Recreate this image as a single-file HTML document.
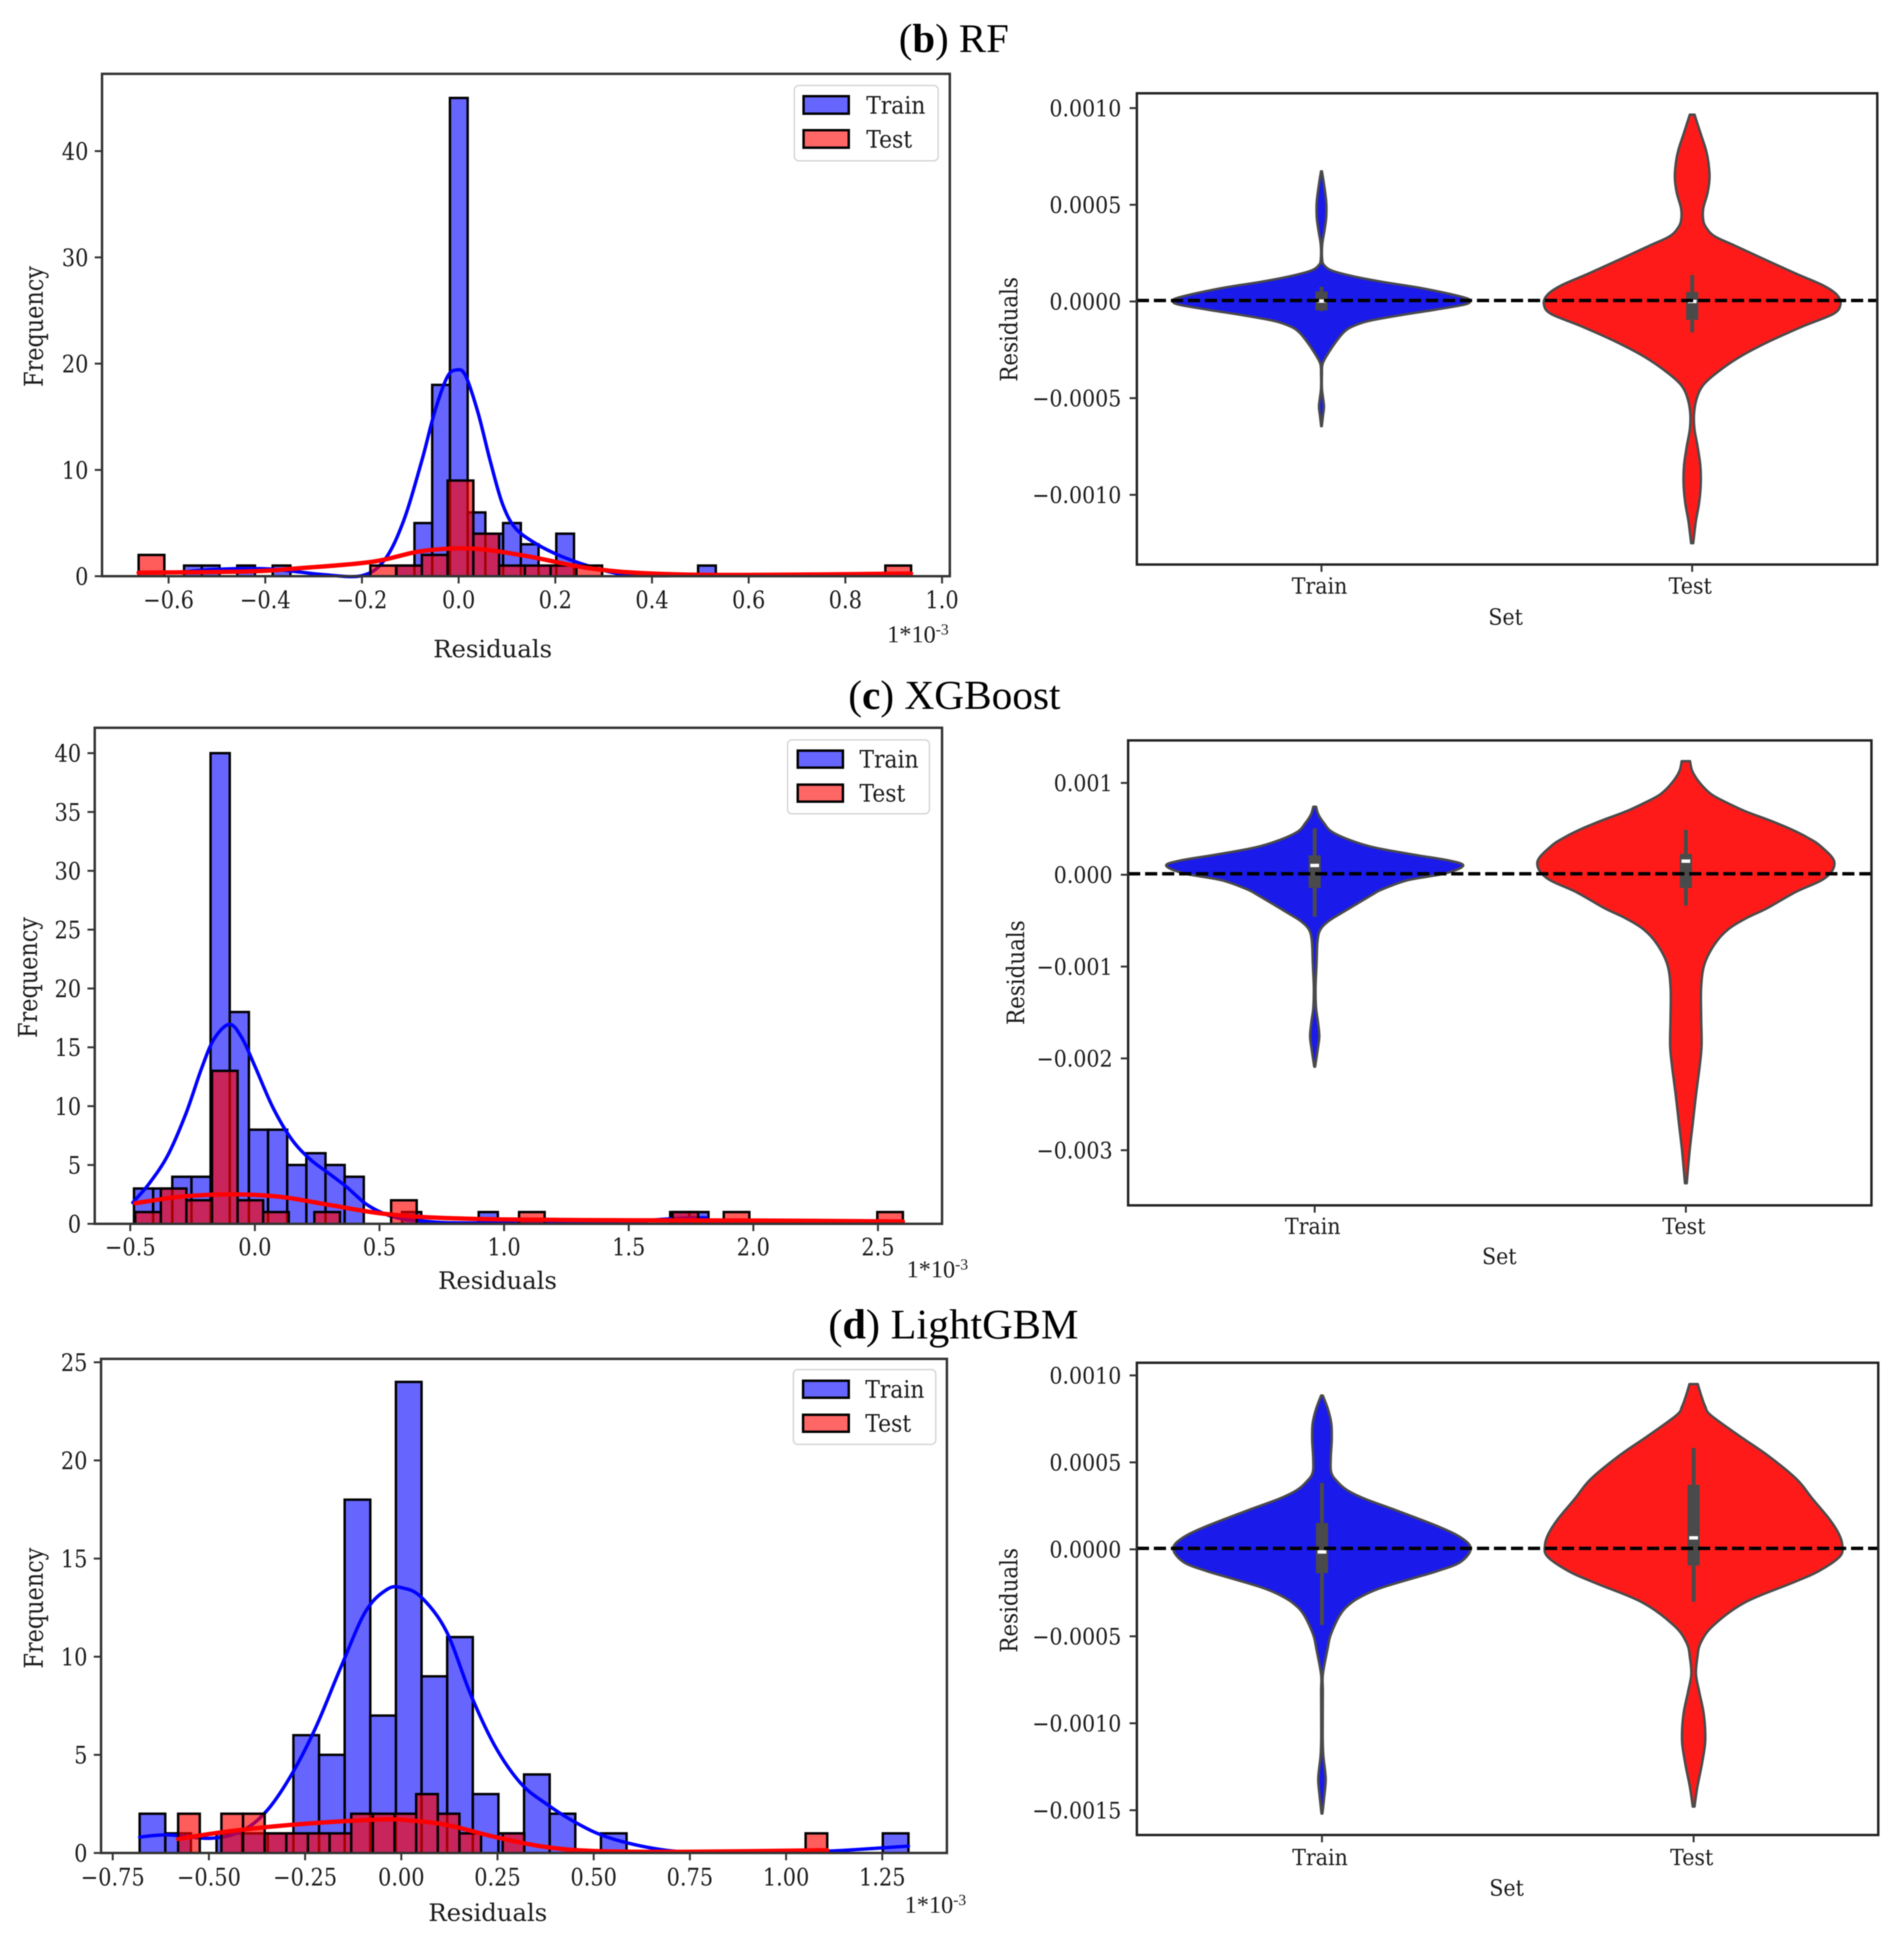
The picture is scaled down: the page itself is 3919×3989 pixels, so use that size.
<!DOCTYPE html>
<html lang="en">
<head>
<meta charset="utf-8">
<title>Residual histograms and violin plots</title>
<style>
html,body{margin:0;padding:0;background:#fff;}
svg{display:block;filter:blur(1.1px);}
text{fill:#1a1a1a;}
</style>
</head>
<body>
<svg id="figure" xmlns="http://www.w3.org/2000/svg" width="3919" height="3989" viewBox="0 0 3919 3989">
<rect x="0" y="0" width="3919" height="3989" fill="#ffffff"/>
</svg>
<script>
/* ---------- RF histogram data ---------- */
const rfXTicks = [-0.6,-0.4,-0.2,0,0.2,0.4,0.6,0.8,1.0];
const rfXLabels = ['−0.6','−0.4','−0.2','0.0','0.2','0.4','0.6','0.8','1.0'];
const rfYTicks = [0,10,20,30,40];
const rfTrainRange = [-0.568,0.532];
const rfTestRange = [-0.662,0.936];
const rfTrainCounts = [1,1,0,1,0,1,0,0,0,0,0,0,1,5,18,45,6,4,5,3,1,4,0,0,0,0,0,0,0,1];
const rfTestCounts = [2,0,0,0,0,0,0,0,0,1,1,2,9,4,1,1,1,1,0,0,0,0,0,0,0,0,0,0,0,1];
const rfTrainKdeX = [-0.568,-0.5,-0.4,-0.33,-0.28,-0.2,-0.153,-0.114,-0.076,-0.05,-0.024,-0.005,0.014,0.04,0.065,0.09,0.116,0.155,0.206,0.27,0.335,0.4,0.532];
const rfTrainKdeY = [0.4,0.65,0.7,0.4,0.15,0.05,1.55,5.2,10.9,15.4,18.7,19.4,18.9,15.4,10.9,6.9,4.6,3.2,2,0.94,0.2,0.04,0.1];
const rfTestKdeX = [-0.662,-0.435,-0.33,-0.18,-0.075,0.027,0.14,0.27,0.4,0.59,0.936];
const rfTestKdeY = [0.33,0.45,0.75,1.35,2.37,2.6,1.9,0.75,0.25,0.12,0.25];

/* ---------- XGBoost histogram data ---------- */
const xgbXTicks = [-0.5,0,0.5,1.0,1.5,2.0,2.5];
const xgbXLabels = ['−0.5','0.0','0.5','1.0','1.5','2.0','2.5'];
const xgbYTicks = [0,5,10,15,20,25,30,35,40];
const xgbTrainRange = [-0.485,1.82];
const xgbTestRange = [-0.48,2.6];
const xgbTrainCounts = [3,3,4,4,40,18,8,8,5,6,5,4,0,0,1,0,0,0,1,0,0,0,0,0,0,0,0,0,1,1];
const xgbTestCounts = [1,3,2,13,2,1,0,1,0,0,2,0,0,0,0,1,0,0,0,0,0,1,0,1,0,0,0,0,0,1];
const xgbTrainKdeX = [-0.49,-0.425,-0.35,-0.276,-0.214,-0.164,-0.102,-0.052,0,0.072,0.147,0.221,0.296,0.37,0.445,0.52,0.594,0.669,0.768,0.967,1.464,1.613,1.737,1.812];
const xgbTrainKdeY = [1.8,3.4,5.8,9.4,13.2,15.7,16.95,15.8,13.4,9.9,7.2,5.5,4.3,3.1,1.7,0.85,0.4,0.25,0.1,0.07,0.1,0.35,0.5,0.5];
const xgbTestKdeX = [-0.48,-0.3,-0.1,0.1,0.3,0.5,0.7,1.0,1.5,2.0,2.6];
const xgbTestKdeY = [1.75,2.3,2.5,2.3,1.6,0.9,0.55,0.37,0.3,0.28,0.2];

/* ---------- LightGBM histogram data ---------- */
const lgbXTicks = [-0.75,-0.5,-0.25,0,0.25,0.5,0.75,1.0,1.25];
const lgbXLabels = ['−0.75','−0.50','−0.25','0.00','0.25','0.50','0.75','1.00','1.25'];
const lgbYTicks = [0,5,10,15,20,25];
const lgbTrainRange = [-0.68,1.318];
const lgbTestRange = [-0.58,1.107];
const lgbTrainCounts = [2,1,0,1,1,1,6,5,18,7,24,9,11,3,1,4,2,0,1,0,0,0,0,0,0,0,0,0,0,1];
const lgbTestCounts = [2,0,2,2,1,1,1,1,2,2,2,3,2,1,0,1,0,0,0,0,0,0,0,0,0,0,0,0,0,1];
const lgbTrainKdeX = [-0.68,-0.608,-0.495,-0.415,-0.35,-0.286,-0.222,-0.157,-0.093,-0.036,0.004,0.052,0.117,0.181,0.245,0.31,0.374,0.455,0.535,0.648,0.76,0.97,1.115,1.318];
const lgbTrainKdeY = [0.81,0.92,0.75,1.12,2.14,3.97,6.41,9.47,12.3,13.44,13.5,13.03,11.3,8.04,5.39,3.56,2.54,1.53,0.81,0.26,0.04,0.06,0.1,0.35];
const lgbTestKdeX = [-0.58,-0.48,-0.35,-0.222,-0.077,0.004,0.117,0.245,0.374,0.503,0.728,1.107];
const lgbTestKdeY = [0.71,1.02,1.32,1.53,1.69,1.69,1.43,0.81,0.31,0.1,0.06,0.14];

/* ---------- Violin data: residual values in units of 1e-3, density relative to peak ---------- */
const rfVioTicks = [1,0.5,0,-0.5,-1];
const rfVioLabels = ['0.0010','0.0005','0.0000','−0.0005','−0.0010'];
const rfVioTrainVal = [0.673,0.611,0.514,0.437,0.37,0.293,0.216,0.187,0.159,0.13,0.101,0.072,0.043,0.019,0.005,-0.015,-0.043,-0.072,-0.101,-0.13,-0.159,-0.207,-0.265,-0.322,-0.38,-0.448,-0.496,-0.544,-0.592,-0.645];
const rfVioTrainDen = [0.003,0.016,0.032,0.032,0.021,0.005,0.005,0.019,0.072,0.215,0.413,0.652,0.842,0.969,1,0.97,0.763,0.524,0.318,0.207,0.151,0.099,0.048,0.008,0.003,0.003,0.01,0.017,0.01,0.002];
const rfVioTrainBox = [-0.05,-0.046,0.002,0.052,0.076];
const rfVioTestVal = [0.966,0.866,0.786,0.722,0.642,0.562,0.482,0.425,0.385,0.338,0.29,0.225,0.144,0.082,0.033,-0.015,-0.064,-0.127,-0.207,-0.288,-0.368,-0.432,-0.496,-0.576,-0.657,-0.752,-0.848,-0.945,-1.041,-1.137,-1.25];
const rfVioTestDen = [0.016,0.058,0.092,0.109,0.117,0.104,0.075,0.074,0.092,0.15,0.284,0.468,0.7,0.886,0.978,1,0.953,0.752,0.518,0.318,0.167,0.075,0.033,0.013,0.015,0.037,0.055,0.058,0.047,0.025,0.007];
const rfVioTestBox = [-0.16,-0.095,0,0.049,0.137];

const xgbVioTicks = [1,0,-1,-2,-3];
const xgbVioLabels = ['0.001','0.000','−0.001','−0.002','−0.003'];
const xgbVioTrainVal = [0.741,0.656,0.562,0.468,0.374,0.295,0.217,0.154,0.098,0.013,-0.06,-0.16,-0.223,-0.41,-0.505,-0.599,-0.724,-0.975,-1.226,-1.446,-1.603,-1.76,-1.917,-2.09];
const xgbVioTrainDen = [0.009,0.025,0.063,0.116,0.244,0.407,0.673,0.908,1,0.876,0.626,0.454,0.382,0.188,0.094,0.038,0.019,0.0125,0.006,0.009,0.022,0.031,0.019,0.003];
const xgbVioTrainBox = [-0.458,-0.144,0.101,0.211,0.506];
const xgbVioTestVal = [1.237,1.127,1.001,0.876,0.782,0.688,0.593,0.499,0.405,0.311,0.138,-0.034,-0.191,-0.364,-0.473,-0.599,-0.756,-0.976,-1.226,-1.54,-1.854,-2.074,-2.388,-2.701,-3.015,-3.36];
const xgbVioTestDen = [0.028,0.044,0.094,0.172,0.28,0.406,0.563,0.704,0.82,0.908,1,0.939,0.736,0.548,0.407,0.282,0.194,0.125,0.103,0.103,0.106,0.094,0.069,0.047,0.025,0.006];
const xgbVioTestBox = [-0.336,-0.144,0.148,0.227,0.49];

const lgbVioTicks = [1,0.5,0,-0.5,-1,-1.5];
const lgbVioLabels = ['0.0010','0.0005','0.0000','−0.0005','−0.0010','−0.0015'];
const lgbVioTrainVal = [0.884,0.804,0.721,0.63,0.522,0.44,0.39,0.34,0.29,0.224,0.125,0.059,0,-0.074,-0.124,-0.157,-0.215,-0.256,-0.306,-0.372,-0.488,-0.571,-0.72,-0.82,-1.068,-1.184,-1.317,-1.416,-1.519];
const lgbVioTrainDen = [0.006,0.041,0.063,0.066,0.059,0.063,0.103,0.17,0.29,0.5,0.8,0.95,1,0.93,0.78,0.65,0.42,0.3,0.2,0.125,0.06,0.038,0.006,0.006,0.005,0.009,0.025,0.016,0.003];
const lgbVioTrainBox = [-0.435,-0.137,-0.015,0.152,0.382];
const lgbVioTestVal = [0.95,0.887,0.821,0.771,0.655,0.539,0.406,0.29,0.174,0.092,0.025,-0.041,-0.124,-0.19,-0.306,-0.439,-0.538,-0.621,-0.72,-0.82,-0.952,-1.101,-1.234,-1.366,-1.479];
const lgbVioTestDen = [0.028,0.05,0.078,0.116,0.303,0.5,0.69,0.8,0.913,0.975,1,0.984,0.844,0.672,0.344,0.131,0.047,0.025,0.016,0.038,0.069,0.078,0.056,0.025,0.006];
const lgbVioTestBox = [-0.302,-0.093,0.066,0.371,0.583];

const vioCategories = ['Train','Test'];

/* ---------- helpers ---------- */
const svg = document.getElementById('figure');
const NS = 'http://www.w3.org/2000/svg';
const SERIF = '"DejaVu Serif","Liberation Serif",serif';
const TITLE_FONT = '"Liberation Serif","DejaVu Serif",serif';

function mk(parent, tag, attrs, name, interactive) {
  const el = document.createElementNS(NS, tag);
  for (const k in attrs) el.setAttribute(k, attrs[k]);
  
  
  parent.appendChild(el);
  return el;
}
function label(parent, x, y, str, o, name) {
  const t = (o.rot ? 'rotate(-90) ' : '');
  const el = mk(parent, 'text', {
    transform: 'translate(' + x + ',' + y + ') scale(' + (o.sx || 1) + ',1) ' + t,
    'font-family': o.font || SERIF,
    'font-size': o.fs,
    'text-anchor': o.anchor || 'middle'
  }, name);
  el.textContent = str;
  return el;
}
/* Smooth path through the points (Catmull-Rom drawn as Bezier segments) */
function smooth(pts) {
  let d = 'M' + pts[0][0].toFixed(1) + ',' + pts[0][1].toFixed(1);
  for (let i = 0; i < pts.length - 1; i++) {
    const p0 = pts[Math.max(0, i - 1)], p1 = pts[i], p2 = pts[i + 1], p3 = pts[Math.min(pts.length - 1, i + 2)];
    const c1x = p1[0] + (p2[0] - p0[0]) / 6, c1y = p1[1] + (p2[1] - p0[1]) / 6;
    const c2x = p2[0] - (p3[0] - p1[0]) / 6, c2y = p2[1] - (p3[1] - p1[1]) / 6;
    d += 'C' + c1x.toFixed(1) + ',' + c1y.toFixed(1) + ' ' + c2x.toFixed(1) + ',' + c2y.toFixed(1) + ' ' + p2[0].toFixed(1) + ',' + p2[1].toFixed(1);
  }
  return d;
}

function title(prefixBold, rest, x, y, fs, name) {
  const el = mk(svg, 'text', {x: x, y: y, 'font-family': TITLE_FONT, 'font-size': fs}, name);
  el.style.fill = '#000';
  el.appendChild(document.createTextNode('('));
  const b = document.createElementNS(NS, 'tspan');
  b.setAttribute('font-weight', 'bold');
  b.textContent = prefixBold;
  el.appendChild(b);
  el.appendChild(document.createTextNode(') ' + rest));
}

function drawHist(c) {
  const g = mk(svg, 'g', {}, c.id + '-histogram');
  const X = v => c.zeroX + v * c.unitX;
  const Y = v => c.zeroY - v * c.unitY;
  mk(g, 'rect', {x: c.box[0], y: c.box[1], width: c.box[2] - c.box[0], height: c.box[3] - c.box[1], fill: '#fff'}, 'plot-area');

  function bars(range, counts, color, op, name) {
    const bw = (range[1] - range[0]) / counts.length;
    const gb = mk(g, 'g', {}, name + '-bars');
    counts.forEach((n, i) => {
      if (n <= 0) return;
      mk(gb, 'rect', {
        x: X(range[0] + i * bw), y: Y(n),
        width: X(range[0] + (i + 1) * bw) - X(range[0] + i * bw),
        height: Y(0) - Y(n),
        fill: color, 'fill-opacity': op, stroke: '#000', 'stroke-width': 5
      }, name + '-bar');
    });
  }
  function kde(xs, ys, color, w, name) {
    mk(g, 'path', {
      d: smooth(xs.map((v, i) => [X(v), Y(ys[i])])),
      fill: 'none', stroke: color, 'stroke-width': w, 'stroke-linecap': 'round', 'stroke-linejoin': 'round'
    }, name + '-kde-line');
  }
  bars(c.trainRange, c.trainCounts, '#0000ff', 0.6, 'train');
  kde(c.trainKdeX, c.trainKdeY, '#0000ff', 7, 'train');
  bars(c.testRange, c.testCounts, '#ff0000', 0.64, 'test');
  kde(c.testKdeX, c.testKdeY, '#ff0000', 9, 'test');

  mk(g, 'rect', {x: c.box[0], y: c.box[1], width: c.box[2] - c.box[0], height: c.box[3] - c.box[1], fill: 'none', stroke: '#333', 'stroke-width': 5}, 'axes-frame');

  const gx = mk(g, 'g', {}, 'x-axis');
  c.xTicks.forEach((v, i) => {
    mk(gx, 'line', {x1: X(v), x2: X(v), y1: c.box[3], y2: c.box[3] + 15, stroke: '#333', 'stroke-width': 4}, 'x-tick');
    label(gx, X(v), c.xLabelY, c.xLabels[i], {fs: 50, sx: 0.86}, 'x-tick-label');
  });
  const gy = mk(g, 'g', {}, 'y-axis');
  c.yTicks.forEach(v => {
    mk(gy, 'line', {x1: c.box[0] - 15, x2: c.box[0], y1: Y(v), y2: Y(v), stroke: '#333', 'stroke-width': 4}, 'y-tick');
    label(gy, c.box[0] - 28, Y(v) + 18, String(v), {fs: 50, sx: 0.86, anchor: 'end'}, 'y-tick-label');
  });
  label(g, c.xTitle[0], c.xTitle[1], 'Residuals', {fs: 50, sx: 1.0}, 'x-axis-title');
  label(g, c.yTitle[0], c.yTitle[1], 'Frequency', {fs: 46, sx: 1.15, rot: true}, 'y-axis-title');

  const sc = mk(g, 'text', {x: c.scale[0], y: c.scale[1], 'font-family': TITLE_FONT, 'font-size': 50}, 'x-axis-scale-note');
  sc.appendChild(document.createTextNode('1*10'));
  const sup = document.createElementNS(NS, 'tspan');
  sup.setAttribute('dy', '-16');
  sup.setAttribute('font-size', '32');
  sup.textContent = '-3';
  sc.appendChild(sup);

  const L = c.legend;
  const lg = mk(g, 'g', {}, 'legend');
  mk(lg, 'rect', {x: L.x0, y: L.y0, width: L.x1 - L.x0, height: L.y1 - L.y0, rx: 9, fill: '#fff', 'fill-opacity': 0.85, stroke: '#d6d6d6', 'stroke-width': 3}, 'legend-frame');
  [['Train', '#0000ff', L.r1], ['Test', '#ff0000', L.r2]].forEach(e => {
    mk(lg, 'rect', {x: L.sx0, y: e[2], width: L.sx1 - L.sx0, height: L.sh, fill: e[1], 'fill-opacity': 0.6, stroke: '#000', 'stroke-width': 5}, 'legend-swatch-' + e[0].toLowerCase());
    label(lg, L.tx, e[2] + L.sh, e[0], {fs: 50, sx: 0.9, anchor: 'start'}, 'legend-label-' + e[0].toLowerCase());
  });
}

function drawViolin(c) {
  const g = mk(svg, 'g', {}, c.id + '-violin-plot');
  const X = i => c.cat0 + i * c.catStep;
  const Y = v => c.zeroY - v * c.unitY;
  const halfW = c.catStep * 0.4;
  mk(g, 'rect', {x: c.box[0], y: c.box[1], width: c.box[2] - c.box[0], height: c.box[3] - c.box[1], fill: '#fff'}, 'plot-area');

  function violin(i, vals, dens, box, color, name) {
    const gv = mk(g, 'g', {}, name + '-violin');
    const right = vals.map((v, k) => [X(i) + dens[k] * halfW, Y(v)]);
    const left = vals.map((v, k) => [X(i) - dens[k] * halfW, Y(v)]).reverse();
    mk(gv, 'path', {d: smooth(right) + 'L' + left[0][0].toFixed(1) + ',' + left[0][1].toFixed(1) + smooth(left).replace(/^M[^C]*/, '') + 'Z', fill: color, stroke: '#4a4a4a', 'stroke-width': 5, 'stroke-linejoin': 'round'}, name + '-violin-body');
    mk(gv, 'line', {x1: X(i), x2: X(i), y1: Y(box[0]), y2: Y(box[4]), stroke: '#4a4a4a', 'stroke-width': 8}, name + '-whisker');
    mk(gv, 'rect', {x: X(i) - 12.5, y: Y(box[3]), width: 25, height: Y(box[1]) - Y(box[3]), fill: '#4a4a4a'}, name + '-quartile-box');
    mk(gv, 'rect', {x: X(i) - 9, y: Y(box[2]) - 3.5, width: 18, height: 7, fill: '#fff'}, name + '-median');
  }
  violin(0, c.trainVal, c.trainDen, c.trainBox, '#1a1aeb', 'train');
  violin(1, c.testVal, c.testDen, c.testBox, '#ff1a1a', 'test');

  mk(g, 'line', {x1: c.box[0], x2: c.box[2], y1: Y(0) - 2, y2: Y(0) - 2, stroke: '#000', 'stroke-width': 7, 'stroke-dasharray': '25 10'}, 'zero-reference-line');
  mk(g, 'rect', {x: c.box[0], y: c.box[1], width: c.box[2] - c.box[0], height: c.box[3] - c.box[1], fill: 'none', stroke: '#222', 'stroke-width': 5}, 'axes-frame');

  const gy = mk(g, 'g', {}, 'y-axis');
  c.ticks.forEach((v, i) => {
    mk(gy, 'line', {x1: c.box[0] - 15, x2: c.box[0], y1: Y(v), y2: Y(v), stroke: '#333', 'stroke-width': 4}, 'y-tick');
    label(gy, c.box[0] - 32, Y(v) + 17, c.labels[i], {fs: 47, sx: 0.9, anchor: 'end'}, 'y-tick-label');
  });
  const gx = mk(g, 'g', {}, 'x-axis');
  vioCategories.forEach((name, i) => {
    mk(gx, 'line', {x1: X(i), x2: X(i), y1: c.box[3], y2: c.box[3] + 15, stroke: '#333', 'stroke-width': 4}, 'x-tick');
    label(gx, X(i) - 4, c.catLabelY, name, {fs: 46, sx: 0.92}, 'x-tick-label');
  });
  label(g, c.xTitle[0], c.xTitle[1], 'Set', {fs: 46, sx: 0.92}, 'x-axis-title');
  label(g, c.yTitle[0], c.yTitle[1], 'Residuals', {fs: 44, sx: 1.12, rot: true}, 'y-axis-title');
}

/* ---------- panels ---------- */
title('b', 'RF', 1850, 107, 84, 'title-rf');
title('c', 'XGBoost', 1746, 1459, 85, 'title-xgboost');
title('d', 'LightGBM', 1705, 2755, 87, 'title-lightgbm');

drawHist({
  id: 'rf', box: [210,152,1955,1186], zeroX: 944, unitX: 995, zeroY: 1186, unitY: 21.875,
  xTicks: rfXTicks, xLabels: rfXLabels, yTicks: rfYTicks, xLabelY: 1252,
  trainRange: rfTrainRange, testRange: rfTestRange, trainCounts: rfTrainCounts, testCounts: rfTestCounts,
  trainKdeX: rfTrainKdeX, trainKdeY: rfTrainKdeY, testKdeX: rfTestKdeX, testKdeY: rfTestKdeY,
  xTitle: [1014,1353], yTitle: [88,672], scale: [1826,1322],
  legend: {x0:1635,y0:176,x1:1931,y1:331,sx0:1654,sx1:1747,sh:36,r1:198,r2:268,tx:1783}
});
drawHist({
  id: 'xgboost', box: [195,1498,1939,2519], zeroX: 524.6, unitX: 513, zeroY: 2519, unitY: 24.22,
  xTicks: xgbXTicks, xLabels: xgbXLabels, yTicks: xgbYTicks, xLabelY: 2584,
  trainRange: xgbTrainRange, testRange: xgbTestRange, trainCounts: xgbTrainCounts, testCounts: xgbTestCounts,
  trainKdeX: xgbTrainKdeX, trainKdeY: xgbTrainKdeY, testKdeX: xgbTestKdeX, testKdeY: xgbTestKdeY,
  xTitle: [1024,2653], yTitle: [76,2012], scale: [1866,2629],
  legend: {x0:1621,y0:1523,x1:1913,y1:1675,sx0:1642,sx1:1735,sh:35,r1:1545,r2:1615,tx:1769}
});
drawHist({
  id: 'lightgbm', box: [208,2797,1949,3814], zeroX: 826, unitX: 792, zeroY: 3814, unitY: 40.4,
  xTicks: lgbXTicks, xLabels: lgbXLabels, yTicks: lgbYTicks, xLabelY: 3881,
  trainRange: lgbTrainRange, testRange: lgbTestRange, trainCounts: lgbTrainCounts, testCounts: lgbTestCounts,
  trainKdeX: lgbTrainKdeX, trainKdeY: lgbTrainKdeY, testKdeX: lgbTestKdeX, testKdeY: lgbTestKdeY,
  xTitle: [1004,3954], yTitle: [88,3310], scale: [1862,3937],
  legend: {x0:1633,y0:2819,x1:1926,y1:2973,sx0:1653,sx1:1747,sh:35,r1:2842,r2:2912,tx:1781}
});

drawViolin({
  id: 'rf', box: [2340,192,3864,1162], cat0: 2720, catStep: 763, zeroY: 620.5, unitY: 398,
  ticks: rfVioTicks, labels: rfVioLabels,
  trainVal: rfVioTrainVal, trainDen: rfVioTrainDen, trainBox: rfVioTrainBox,
  testVal: rfVioTestVal, testDen: rfVioTestDen, testBox: rfVioTestBox,
  catLabelY: 1222, xTitle: [3099,1286], yTitle: [2094,678]
});
drawViolin({
  id: 'xgboost', box: [2322,1524,3852,2481], cat0: 2706, catStep: 764, zeroY: 1800.5, unitY: 189,
  ticks: xgbVioTicks, labels: xgbVioLabels,
  trainVal: xgbVioTrainVal, trainDen: xgbVioTrainDen, trainBox: xgbVioTrainBox,
  testVal: xgbVioTestVal, testDen: xgbVioTestDen, testBox: xgbVioTestBox,
  catLabelY: 2540, xTitle: [3086,2602], yTitle: [2108,2002]
});
drawViolin({
  id: 'lightgbm', box: [2340,2805,3866,3777], cat0: 2721, catStep: 765, zeroY: 3189, unitY: 358,
  ticks: lgbVioTicks, labels: lgbVioLabels,
  trainVal: lgbVioTrainVal, trainDen: lgbVioTrainDen, trainBox: lgbVioTrainBox,
  testVal: lgbVioTestVal, testDen: lgbVioTestDen, testBox: lgbVioTestBox,
  catLabelY: 3839, xTitle: [3101,3902], yTitle: [2094,3294]
});
</script>
</body>
</html>
